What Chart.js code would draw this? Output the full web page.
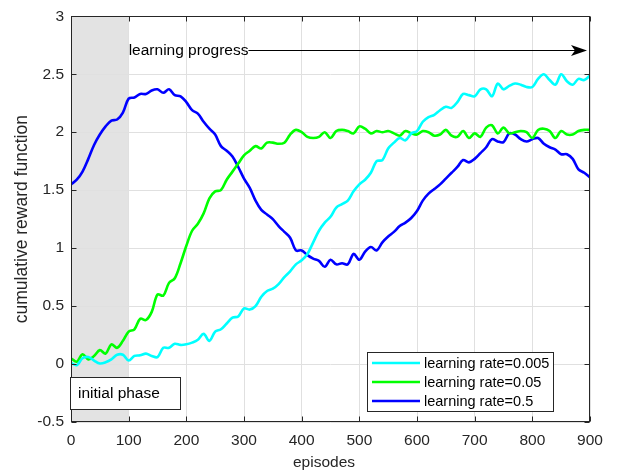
<!DOCTYPE html>
<html>
<head>
<meta charset="utf-8">
<script src="https://cdn.jsdelivr.net/npm/chart.js@4.4.1/dist/chart.umd.min.js"></script>
<style>
  html, body { margin: 0; padding: 0; background: #ffffff; }
  #wrap { width: 619px; height: 474px; position: relative; }
</style>
</head>
<body>
<div id="wrap"><canvas id="c" width="619" height="474"></canvas></div>
<script>
// Episode index, sampled every 10 episodes
const episodes = Array.from({ length: 91 }, (_, i) => i * 10);

// Cumulative reward per learning rate
const rewardLr0005 = [
  0.01, -0.01, 0.05, 0.06, 0.03, 0.005, 0.015, 0.04, 0.08, 0.08,
  0.03, 0.07, 0.075, 0.09, 0.07, 0.06, 0.14, 0.14, 0.175, 0.165,
  0.17, 0.185, 0.21, 0.26, 0.20, 0.28, 0.30, 0.35, 0.40, 0.41,
  0.48, 0.47, 0.50, 0.58, 0.63, 0.65, 0.69, 0.75, 0.80, 0.86,
  0.895, 0.95, 1.05, 1.15, 1.22, 1.27, 1.35, 1.38, 1.41, 1.49,
  1.55, 1.59, 1.65, 1.75, 1.76, 1.86, 1.91, 1.95, 1.93, 1.99,
  2.01, 2.09, 2.13, 2.15, 2.19, 2.22, 2.21, 2.26, 2.33, 2.32,
  2.31, 2.37, 2.37, 2.31, 2.42, 2.37, 2.40, 2.42, 2.41, 2.39,
  2.39, 2.46, 2.50, 2.45, 2.41, 2.50, 2.44, 2.41, 2.46, 2.45,
  2.49
];
const rewardLr005 = [
  0.05, 0.02, 0.085, 0.04, 0.07, 0.12, 0.09, 0.17, 0.14, 0.20,
  0.28, 0.30, 0.39, 0.38, 0.45, 0.60, 0.59, 0.70, 0.74, 0.87,
  1.02, 1.15, 1.21, 1.30, 1.43, 1.49, 1.50, 1.59, 1.66, 1.73,
  1.80, 1.84, 1.88, 1.86, 1.91, 1.91, 1.90, 1.91, 1.98, 2.02,
  2.00, 1.96, 1.95, 1.96, 2.00, 1.95, 2.01, 2.02, 2.01, 1.99,
  2.05, 2.03, 1.99, 2.01, 2.00, 2.01, 1.99, 1.97, 2.01, 1.99,
  1.98, 2.01, 2.00, 1.97, 1.98, 2.02, 1.97, 1.96, 2.01, 1.95,
  1.99, 1.96, 2.04, 2.06, 1.99, 2.04, 1.99, 2.00, 2.01, 2.00,
  1.95, 2.02, 2.03, 2.01, 1.95, 2.01, 1.98, 1.98, 2.01, 2.02,
  2.02
];
const rewardLr05 = [
  1.55, 1.59, 1.66, 1.77, 1.89, 1.98, 2.05, 2.10, 2.11, 2.17,
  2.29, 2.30, 2.33, 2.33, 2.36, 2.37, 2.34, 2.37, 2.32, 2.31,
  2.26, 2.19, 2.16, 2.09, 2.03, 1.98, 1.88, 1.84, 1.79, 1.70,
  1.60, 1.52, 1.41, 1.33, 1.29, 1.25, 1.19, 1.14, 1.09, 0.98,
  0.98, 0.94, 0.91, 0.89, 0.84, 0.90, 0.86, 0.87, 0.86, 0.95,
  0.90, 0.97, 1.01, 0.98, 1.05, 1.10, 1.14, 1.19, 1.22, 1.26,
  1.32, 1.41, 1.47, 1.51, 1.55, 1.60, 1.65, 1.70, 1.76, 1.74,
  1.77, 1.82, 1.87, 1.94, 1.92, 1.915, 1.99, 1.98, 1.94, 1.92,
  1.94, 1.95, 1.90, 1.87, 1.85, 1.81, 1.81, 1.77, 1.68, 1.65,
  1.61
];

const seriesLabels = ['learning rate=0.005', 'learning rate=0.05', 'learning rate=0.5'];
const seriesColors = ['#00ffff', '#00ff00', '#0000ff'];

// Axis ticks
const xTicks = [0, 100, 200, 300, 400, 500, 600, 700, 800, 900];
const yTickLabels = ['-0.5', '0', '0.5', '1', '1.5', '2', '2.5', '3'];

// Annotations
const initialPhaseEnd = 100;
const initialPhaseText = 'initial phase';
const progressText = 'learning progress';
const xTitle = 'episodes';

const FONT = '"Liberation Sans", Arial, Helvetica, sans-serif';
const AXIS_COLOR = '#262626';

// Light grey band marking the initial phase (drawn under grid and lines)
const phaseBand = {
  id: 'phaseBand',
  beforeDraw(chart) {
    const { ctx, chartArea: a, scales: { x } } = chart;
    ctx.save();
    ctx.fillStyle = '#e3e3e3';
    const x1 = x.getPixelForValue(initialPhaseEnd);
    ctx.fillRect(a.left, a.top, x1 - a.left, a.bottom - a.top);
    ctx.restore();
  }
};

// Boxed axes with inward tick marks
const axesBox = {
  id: 'axesBox',
  afterDatasetsDraw(chart) {
    const { ctx, chartArea: a, scales: { x, y } } = chart;
    ctx.save();
    ctx.strokeStyle = AXIS_COLOR;
    ctx.lineWidth = 1;
    const L = Math.round(a.left) + 0.5, R = Math.round(a.right) - 0.5;
    const T = Math.round(a.top) + 0.5, B = Math.round(a.bottom) - 0.5;
    ctx.strokeRect(L, T, R - L, B - T);
    const tl = 5;
    ctx.beginPath();
    x.ticks.forEach(t => {
      const px = Math.round(x.getPixelForValue(t.value)) + 0.5;
      ctx.moveTo(px, B); ctx.lineTo(px, B - tl);
      ctx.moveTo(px, T); ctx.lineTo(px, T + tl);
    });
    y.ticks.forEach(t => {
      const py = Math.round(y.getPixelForValue(t.value)) + 0.5;
      ctx.moveTo(L, py); ctx.lineTo(L + tl, py);
      ctx.moveTo(R, py); ctx.lineTo(R - tl, py);
    });
    ctx.stroke();
    ctx.restore();
  }
};

// Legend box, phase label, progress arrow and x-axis title
const overlays = {
  id: 'overlays',
  afterDraw(chart) {
    const { ctx } = chart;
    ctx.save();

    // legend (lower right)
    const lx = 367, ly = 352, lw = 186, lh = 59;
    ctx.fillStyle = '#ffffff';
    ctx.fillRect(lx, ly, lw, lh);
    ctx.strokeStyle = AXIS_COLOR;
    ctx.lineWidth = 1;
    ctx.strokeRect(lx + 0.5, ly + 0.5, lw, lh);
    ctx.font = '14.5px ' + FONT;
    ctx.textBaseline = 'middle';
    ctx.textAlign = 'left';
    chart.data.datasets.forEach((ds, i) => {
      const rowY = ly + 11 + i * 19;
      ctx.strokeStyle = ds.borderColor;
      ctx.lineWidth = 2.5;
      ctx.beginPath();
      ctx.moveTo(lx + 5, rowY);
      ctx.lineTo(lx + 53, rowY);
      ctx.stroke();
      ctx.fillStyle = '#000000';
      ctx.fillText(ds.label, lx + 57, rowY + 0.5);
    });

    // initial phase label
    const bx = 70, by = 377, bw = 110, bh = 32;
    ctx.fillStyle = '#ffffff';
    ctx.fillRect(bx, by, bw, bh);
    ctx.strokeStyle = AXIS_COLOR;
    ctx.lineWidth = 1;
    ctx.strokeRect(bx + 0.5, by + 0.5, bw, bh);
    ctx.fillStyle = '#000000';
    ctx.font = '15.5px ' + FONT;
    ctx.fillText(initialPhaseText, bx + 8, by + bh / 2 + 0.5);

    // learning progress arrow
    const ay = 50.5;
    const tx = chart.scales.x.getPixelForValue(initialPhaseEnd);
    ctx.font = '15.5px ' + FONT;
    ctx.fillText(progressText, tx, ay);
    const lineStart = tx + ctx.measureText(progressText).width;
    const tip = 587;
    ctx.strokeStyle = '#000000';
    ctx.lineWidth = 1;
    ctx.beginPath();
    ctx.moveTo(lineStart, ay);
    ctx.lineTo(tip - 10, ay);
    ctx.stroke();
    ctx.beginPath();
    ctx.moveTo(tip, ay);
    ctx.lineTo(tip - 16, ay - 5.5);
    ctx.lineTo(tip - 12, ay);
    ctx.lineTo(tip - 16, ay + 5.5);
    ctx.closePath();
    ctx.fill();

    // x-axis title
    ctx.fillStyle = AXIS_COLOR;
    ctx.font = '15.5px ' + FONT;
    ctx.textAlign = 'center';
    ctx.fillText(xTitle, 324, 463);

    ctx.restore();
  }
};

const mkSet = (label, data, color) => ({
  label, data,
  borderColor: color,
  backgroundColor: color,
  borderWidth: 2.6,
  pointRadius: 0,
  tension: 0.35,
  fill: false
});

new Chart(document.getElementById('c'), {
  type: 'line',
  data: {
    labels: episodes,
    datasets: [
      mkSet(seriesLabels[0], rewardLr0005, seriesColors[0]),
      mkSet(seriesLabels[1], rewardLr005, seriesColors[1]),
      mkSet(seriesLabels[2], rewardLr05, seriesColors[2])
    ]
  },
  options: {
    responsive: false,
    animation: false,
    devicePixelRatio: 1,
    layout: { padding: { top: 12, right: 29, left: 0, bottom: 0 } },
    plugins: { legend: { display: false }, tooltip: { enabled: false } },
    scales: {
      x: {
        type: 'linear',
        min: 0, max: 900,
        afterBuildTicks(scale) { scale.ticks = xTicks.map(v => ({ value: v })); },
        afterFit(scale) { scale.height = 52; },
        grid: { color: '#e0e0e0', lineWidth: 1, drawTicks: false },
        border: { display: false },
        ticks: {
          color: AXIS_COLOR, padding: 9,
          font: { family: FONT, size: 15.5 },
          maxRotation: 0,
          callback: v => String(v)
        },
        title: { display: false }
      },
      y: {
        min: -0.5, max: 3,
        afterBuildTicks(scale) { scale.ticks = yTickLabels.map(s => ({ value: parseFloat(s) })); },
        afterFit(scale) { scale.width = 71; },
        grid: { color: '#e0e0e0', lineWidth: 1, drawTicks: false },
        border: { display: false },
        ticks: {
          color: AXIS_COLOR, padding: 7,
          font: { family: FONT, size: 15.5 },
          callback: v => yTickLabels[yTickLabels.map(parseFloat).indexOf(v)] ?? String(v)
        },
        title: {
          display: true, text: 'cumulative reward function', color: AXIS_COLOR,
          font: { family: FONT, size: 17.5 },
          padding: { top: 12, bottom: 0 }
        }
      }
    }
  },
  plugins: [phaseBand, axesBox, overlays]
});
</script>
</body>
</html>
